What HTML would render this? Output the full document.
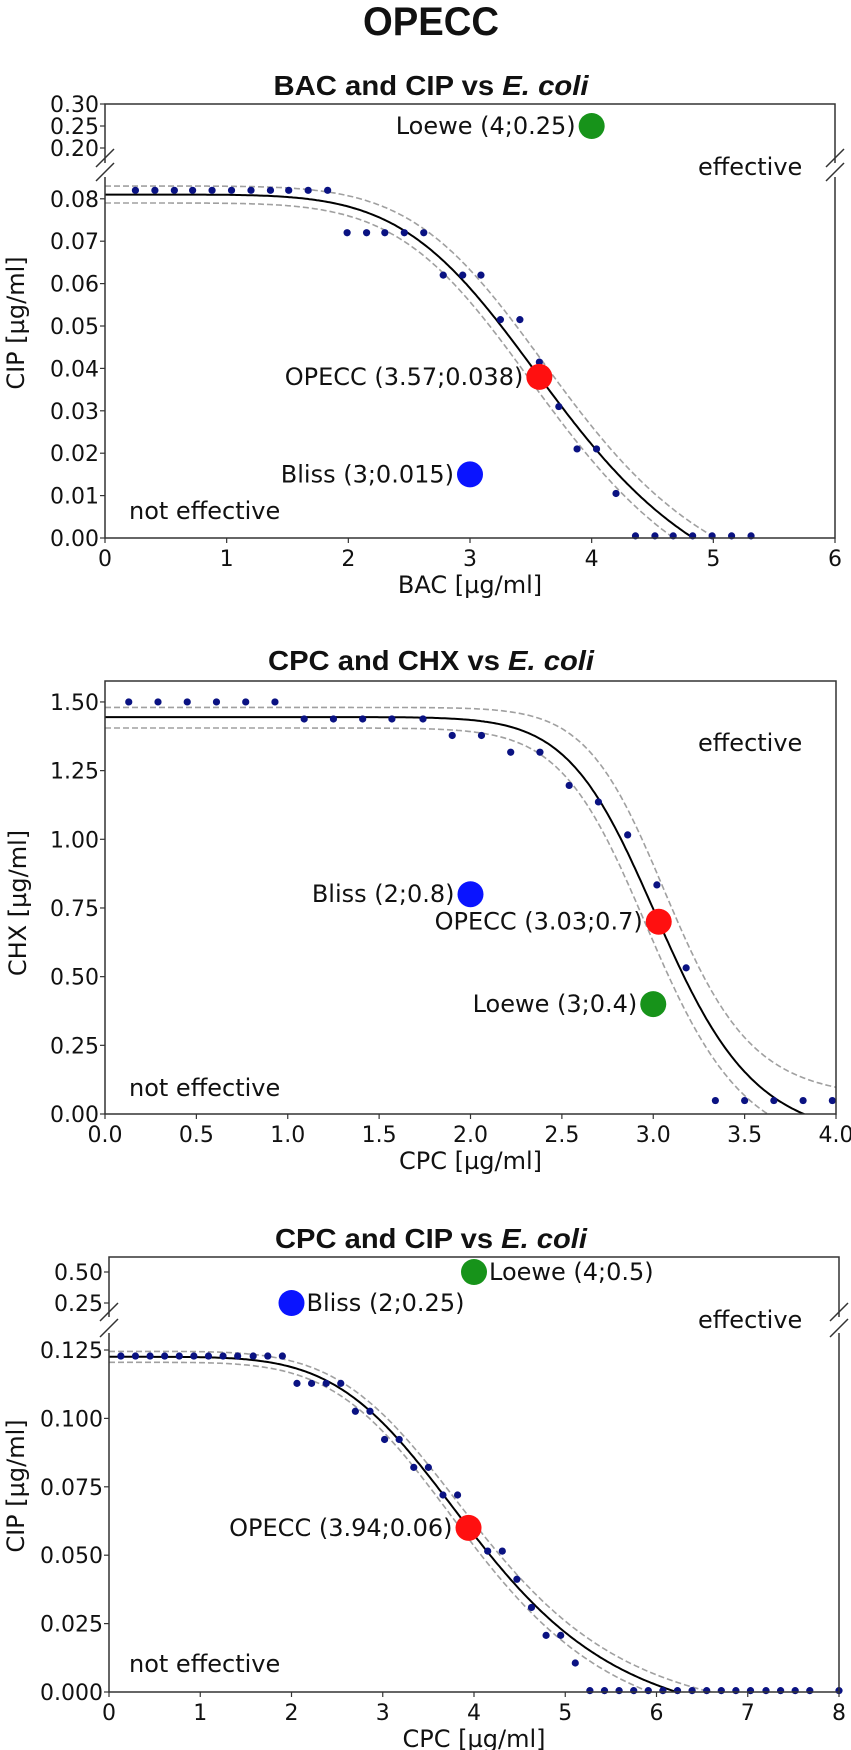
<!DOCTYPE html>
<html><head><meta charset="utf-8"><style>
html,body{margin:0;padding:0;background:#fff;}
svg{display:block;}
text{font-family:"DejaVu Sans","Liberation Sans",sans-serif;fill:#111;}
.tt{font-family:"Liberation Sans",sans-serif;font-weight:bold;}
</style></head><body>
<svg id="fig" width="851" height="1750" viewBox="0 0 851 1750" xmlns="http://www.w3.org/2000/svg">
<text class="tt" x="431" y="35" font-size="40" text-anchor="middle" textLength="136" lengthAdjust="spacingAndGlyphs">OPECC</text>
</svg>
<script>
// ---------- Panel 1 data: BAC and CIP ----------
const p1X = [0.25,0.41,0.57,0.72,0.88,1.04,1.20,1.36,1.51,1.67,1.83,1.99,2.15,2.30,2.46,2.62,2.78,2.94,3.09,3.25,3.41,3.57,3.73,3.88,4.04,4.20,4.36,4.52,4.67,4.83,4.99,5.15,5.31];
const p1Y = [0.082,0.082,0.082,0.082,0.082,0.082,0.082,0.082,0.082,0.082,0.082,0.072,0.072,0.072,0.072,0.072,0.062,0.062,0.062,0.0515,0.0515,0.0415,0.031,0.021,0.021,0.0105,0.0005,0.0005,0.0005,0.0005,0.0005,0.0005,0.0005];
const p1Fit = [0.081,-0.02,3.766,5.6];      // top, bottom, ec50, hill
const p1Upper = [0.083,-0.017,3.82,5.8];
const p1Lower = [0.079,-0.022,3.72,5.6];
const p1MarkNames = ["Loewe (4;0.25)","OPECC (3.57;0.038)","Bliss (3;0.015)"];
const p1MarkX = [4,3.57,3];
const p1MarkY = [0.25,0.038,0.015];
const p1XTicks = [0,1,2,3,4,5,6];
const p1YTicksLow = ["0.00","0.01","0.02","0.03","0.04","0.05","0.06","0.07","0.08"];
const p1YTicksUp = ["0.20","0.25","0.30"];

// ---------- Panel 2 data: CPC and CHX ----------
const p2X = [0.13,0.29,0.45,0.61,0.77,0.93,1.09,1.25,1.41,1.57,1.74,1.90,2.06,2.22,2.38,2.54,2.70,2.86,3.02,3.18,3.34,3.50,3.66,3.82,3.98];
const p2Y = [1.5,1.5,1.5,1.5,1.5,1.5,1.438,1.438,1.438,1.438,1.438,1.378,1.378,1.317,1.317,1.196,1.136,1.016,0.834,0.532,0.049,0.049,0.049,0.049,0.049];
const p2Fit = [1.445,-0.1,3.049,11.8];
const p2Upper = [1.48,0.055,3.09,13.5];
const p2Lower = [1.405,-0.15,3.0,11.8];
const p2MarkNames = ["Bliss (2;0.8)","OPECC (3.03;0.7)","Loewe (3;0.4)"];
const p2MarkX = [2,3.03,3];
const p2MarkY = [0.8,0.7,0.4];
const p2XTicks = ["0.0","0.5","1.0","1.5","2.0","2.5","3.0","3.5","4.0"];
const p2YTicks = ["0.00","0.25","0.50","0.75","1.00","1.25","1.50"];

// ---------- Panel 3 data: CPC and CIP ----------
const p3X = [0.13,0.29,0.45,0.61,0.77,0.93,1.09,1.25,1.41,1.58,1.74,1.90,2.06,2.22,2.38,2.54,2.70,2.86,3.02,3.18,3.34,3.50,3.66,3.82,3.98,4.15,4.31,4.47,4.63,4.79,4.95,5.11,5.27,5.43,5.59,5.75,5.91,6.07,6.23,6.39,6.55,6.71,6.87,7.03,7.20,7.36,7.52,7.68,8.00];
const p3Y = [0.1228,0.1228,0.1228,0.1228,0.1228,0.1228,0.1228,0.1228,0.1228,0.1228,0.1228,0.1228,0.1128,0.1128,0.1128,0.1128,0.1026,0.1026,0.0923,0.0923,0.0821,0.0821,0.072,0.072,0.0615,0.0515,0.0515,0.0412,0.0309,0.0207,0.0207,0.0106,0.0005,0.0005,0.0005,0.0005,0.0005,0.0005,0.0005,0.0005,0.0005,0.0005,0.0005,0.0005,0.0005,0.0005,0.0005,0.0005,0.0005];
const p3Fit = [0.1225,-0.015,4.087,5];
const p3Upper = [0.1245,-0.012,4.13,5];
const p3Lower = [0.1205,-0.018,4.05,5];
const p3MarkNames = ["Loewe (4;0.5)","Bliss (2;0.25)","OPECC (3.94;0.06)"];
const p3MarkX = [4,2,3.94];
const p3MarkY = [0.5,0.25,0.06];
const p3XTicks = [0,1,2,3,4,5,6,7,8];
const p3YTicksLow = ["0.000","0.025","0.050","0.075","0.100","0.125"];
const p3YTicksUp = ["0.25","0.50"];

const NS = "http://www.w3.org/2000/svg";
const svg = document.getElementById('fig');
function mk(tag, attrs, parent){
  const e = document.createElementNS(NS, tag);
  for (const k in attrs) e.setAttribute(k, attrs[k]);
  (parent||svg).appendChild(e);
  return e;
}
function hill(p, x){ return p[1] + (p[0]-p[1])/(1+Math.pow(x/p[2], p[3])); }

function panel(cfg){
  const g = mk('g', {});
  
  
  const sx = v => cfg.x0 + (v - cfg.xmin)/(cfg.xmax - cfg.xmin)*(cfg.x1 - cfg.x0);
  const sy = v => {
    if (cfg.up && v > cfg.lowTopVal) return cfg.upY0 - (v - cfg.upV0)*cfg.upScale;
    return cfg.yBot - v*cfg.lowScale;
  };
  const st = mk('text', {x: cfg.titleX, y: cfg.titleY, 'font-size': 28, 'text-anchor': 'middle', class: 'tt', textLength: cfg.titleW, lengthAdjust: 'spacingAndGlyphs'}, g);
  
  
  st.appendChild(document.createTextNode(cfg.t1));
  const it = document.createElementNS(NS, 'tspan'); it.setAttribute('font-style', 'italic'); it.textContent = 'E. coli'; st.appendChild(it);

  const cid = cfg.name + '-clip';
  const cp = mk('clipPath', {id: cid}, g);
  mk('rect', {x: cfg.x0, y: cfg.lowTopPx, width: cfg.x1 - cfg.x0, height: cfg.yBot - cfg.lowTopPx}, cp);

  function curve(p, dash, color, w, nm){
    let d = '';
    for (let i = 0; i <= 400; i++){
      const xv = cfg.xmin + (cfg.xmax - cfg.xmin)*i/400;
      const yv = hill(p, xv);
      d += (i ? 'L' : 'M') + sx(xv).toFixed(1) + ' ' + (cfg.yBot - yv*cfg.lowScale).toFixed(1);
    }
    const e = mk('path', {d: d, fill: 'none', stroke: color, 'stroke-width': w, 'clip-path': 'url(#' + cid + ')'}, g);
    if (dash) e.setAttribute('stroke-dasharray', dash);
    
    
  }
  curve(cfg.upper, '6,3', '#a0a0a0', 1.6, 'upper-confidence-band');
  curve(cfg.lower, '6,3', '#a0a0a0', 1.6, 'lower-confidence-band');
  curve(cfg.fit, null, '#000', 2, 'fit-curve');

  cfg.px.forEach((xv, i) => {
    const c = mk('circle', {cx: sx(xv), cy: sy(cfg.py[i]), r: 3.6, fill: '#0a1282'}, g);
    
    
  });

  const fr = mk('rect', {x: cfg.x0, y: cfg.yTop, width: cfg.x1 - cfg.x0, height: cfg.yBot - cfg.yTop, fill: 'none', stroke: '#333', 'stroke-width': 1.5}, g);
  
  
  if (cfg.up){
    [cfg.x0, cfg.x1].forEach(xx => {
      mk('rect', {x: xx - 2, y: cfg.gap0, width: 4, height: cfg.gap1 - cfg.gap0, fill: '#fff'}, g);
      [0, 1].forEach(k => {
        const yb = (k ? cfg.gap1 + 4 : cfg.gap0 + 4);
        const l = mk('line', {x1: xx - 9, y1: yb, x2: xx + 9, y2: yb - 18, stroke: '#333', 'stroke-width': 1.5}, g);
        
        
      });
    });
  }

  cfg.xticks.forEach(t => {
    const xv = parseFloat(t), X = sx(xv);
    mk('line', {x1: X, y1: cfg.yBot, x2: X, y2: cfg.yBot + 5, stroke: '#333', 'stroke-width': 1.2}, g);
    const tx = mk('text', {x: X, y: cfg.yBot + 28, 'font-size': 22, 'text-anchor': 'middle'}, g);
    
    
    tx.textContent = String(t);
  });
  function ytick(t){
    const Y = sy(parseFloat(t));
    mk('line', {x1: cfg.x0 - 5, y1: Y, x2: cfg.x0, y2: Y, stroke: '#333', 'stroke-width': 1.2}, g);
    const ty = mk('text', {x: cfg.x0 - 6, y: Y + 8, 'font-size': 22, 'text-anchor': 'end'}, g);
    
    
    ty.textContent = t;
  }
  cfg.yticks.forEach(ytick);
  if (cfg.up) cfg.yticksUp.forEach(ytick);

  const xl = mk('text', {x: (cfg.x0 + cfg.x1)/2, y: cfg.yBot + 55, 'font-size': 24, 'text-anchor': 'middle'}, g);
  
  
  xl.textContent = cfg.xlab;
  const yl = mk('text', {x: 0, y: 0, 'font-size': 24, 'text-anchor': 'middle', transform: 'translate(' + (cfg.ylabX) + ',' + cfg.ylabY + ') rotate(-90)'}, g);
  
  
  yl.textContent = cfg.ylab;

  const ef = mk('text', {x: 698, y: cfg.effY + 8, 'font-size': 24}, g);
  
  
  ef.textContent = 'effective';
  const ne = mk('text', {x: 129, y: cfg.neY + 8, 'font-size': 24}, g);
  
  
  ne.textContent = 'not effective';

  const colors = {Loewe: '#17931a', Bliss: '#0a14ff', OPECC: '#ff1010'};
  cfg.mNames.forEach((nm, i) => {
    const key = nm.split(' ')[0];
    const X = sx(cfg.mX[i]), Y = sy(cfg.mY[i]);
    const c = mk('ellipse', {cx: X, cy: Y, rx: 13, ry: 13, fill: colors[key]}, g);
    
    
    const right = cfg.mRight[i];
    const t = mk('text', {x: right ? X + 15 : X - 16, y: Y + 8, 'font-size': 24, 'text-anchor': right ? 'start' : 'end'}, g);
    
    
    t.textContent = nm;
  });
}

panel({name: 'bac-cip-panel', t1: 'BAC and CIP vs ', titleX: 431, titleY: 95, titleW: 315,
  x0: 105, x1: 835, xmin: 0, xmax: 6, yTop: 104, yBot: 538,
  lowScale: 4240, lowTopPx: 179, lowTopVal: 0.1, up: true, upY0: 104, upV0: 0.30, upScale: 440,
  gap0: 163, gap1: 177,
  fit: p1Fit, upper: p1Upper, lower: p1Lower, px: p1X, py: p1Y,
  xticks: p1XTicks, yticks: p1YTicksLow, yticksUp: p1YTicksUp,
  xlab: 'BAC [µg/ml]', ylab: 'CIP [µg/ml]', ylabX: 24, ylabY: 323,
  effY: 167, neY: 511,
  mNames: p1MarkNames, mX: p1MarkX, mY: p1MarkY, mRight: [false, false, false]});

panel({name: 'cpc-chx-panel', t1: 'CPC and CHX vs ', titleX: 431, titleY: 670, titleW: 326,
  x0: 105, x1: 836, xmin: 0, xmax: 4, yTop: 681, yBot: 1114,
  lowScale: 274.7, lowTopPx: 681, lowTopVal: 9, up: false,
  fit: p2Fit, upper: p2Upper, lower: p2Lower, px: p2X, py: p2Y,
  xticks: p2XTicks, yticks: p2YTicks,
  xlab: 'CPC [µg/ml]', ylab: 'CHX [µg/ml]', ylabX: 26, ylabY: 903,
  effY: 743, neY: 1088,
  mNames: p2MarkNames, mX: p2MarkX, mY: p2MarkY, mRight: [false, false, false]});

panel({name: 'cpc-cip-panel', t1: 'CPC and CIP vs ', titleX: 431, titleY: 1248, titleW: 312,
  x0: 109, x1: 839, xmin: 0, xmax: 8, yTop: 1257, yBot: 1692,
  lowScale: 2736, lowTopPx: 1340, lowTopVal: 0.2, up: true, upY0: 1272, upV0: 0.5, upScale: 124,
  gap0: 1317, gap1: 1333,
  fit: p3Fit, upper: p3Upper, lower: p3Lower, px: p3X, py: p3Y,
  xticks: p3XTicks, yticks: p3YTicksLow, yticksUp: p3YTicksUp,
  xlab: 'CPC [µg/ml]', ylab: 'CIP [µg/ml]', ylabX: 24, ylabY: 1486,
  effY: 1320, neY: 1664,
  mNames: p3MarkNames, mX: p3MarkX, mY: p3MarkY, mRight: [true, true, false]});
</script>
</body></html>
